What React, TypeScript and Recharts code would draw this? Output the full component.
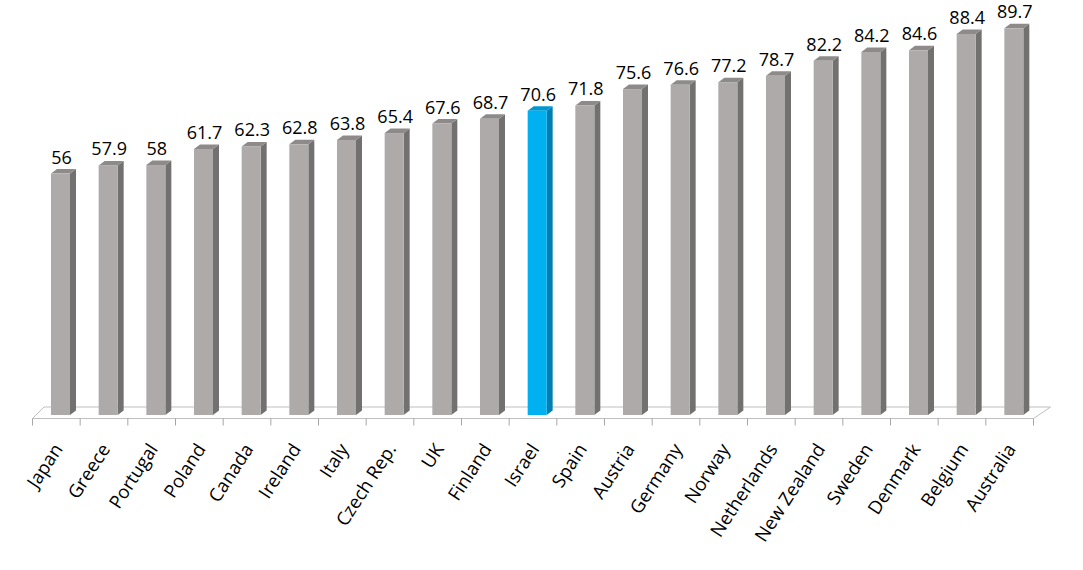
import React from "react"
import { Bar, BarChart, XAxis, YAxis } from "recharts"

const countries = [
  "Japan", "Greece", "Portugal", "Poland", "Canada", "Ireland", "Italy",
  "Czech Rep.", "UK", "Finland", "Israel", "Spain", "Austria", "Germany",
  "Norway", "Netherlands", "New Zealand", "Sweden", "Denmark", "Belgium", "Australia",
]
const values = [
  56, 57.9, 58, 61.7, 62.3, 62.8, 63.8, 65.4, 67.6, 68.7, 70.6, 71.8, 75.6,
  76.6, 77.2, 78.7, 82.2, 84.2, 84.6, 88.4, 89.7,
]
const highlighted = "Israel"

const chartData = countries.map((name, i) => ({ name, value: values[i] }))

const WIDTH = 1083
const HEIGHT = 570
const MARGIN = { top: 27, right: 45, bottom: 0, left: 37 }
const AXIS_HEIGHT = 155
const FONT = "'Open Sans', 'Liberation Sans', sans-serif"

// depth of the 3d bars
const DX = 6
const DY = -4.5

const gray = { front: "#aeaaaa", side: "#737070", top: "#8e8a8a" }
const blue = { front: "#00b0f0", side: "#0080b2", top: "#0098d2" }

function Bar3D(props: any) {
  const { x, y, width, height, payload } = props
  if (width == null || height == null) return null
  const c = payload && payload.name === highlighted ? blue : gray
  const r = x + width
  const b = y + height
  return (
    <g>
      <polygon
        points={`${r},${y} ${r + DX},${y + DY} ${r + DX},${b + DY} ${r},${b}`}
        fill={c.side}
      />
      <polygon
        points={`${x},${y} ${x + DX},${y + DY} ${r + DX},${y + DY} ${r},${y}`}
        fill={c.top}
      />
      <rect x={x} y={y} width={width} height={height} fill={c.front} />
    </g>
  )
}

function ValueLabel(props: any) {
  const { x, y, width, value } = props
  return (
    <text
      x={x + width / 2 + 1}
      y={y - 10}
      textAnchor="middle"
      fontSize={18}
      fontFamily={FONT}
      fill="#000"
    >
      {value}
    </text>
  )
}

function CountryTick(props: any) {
  const { x, y, payload } = props
  const ax = x + 2.5
  const ay = y + 34
  return (
    <text
      x={ax}
      y={ay}
      textAnchor="end"
      fontSize={18.5}
      fontFamily={FONT}
      fill="#000"
      transform={`rotate(-57, ${ax}, ${ay})`}
    >
      {payload.value}
    </text>
  )
}

function Floor() {
  const plotW = WIDTH - MARGIN.left - MARGIN.right
  const plotH = HEIGHT - MARGIN.top - MARGIN.bottom - AXIS_HEIGHT
  const bottom = MARGIN.top + plotH
  const fx0 = MARGIN.left - 4.5
  const fx1 = fx0 + plotW
  const fy = bottom + 3.5
  const by = bottom - 8
  const bw = plotW / countries.length
  const ticks = []
  for (let i = 0; i <= countries.length; i++) {
    const tx = fx0 + i * bw
    ticks.push(<line key={i} x1={tx} y1={fy} x2={tx} y2={fy + 7} stroke="#a6a6a6" />)
  }
  return (
    <g>
      <polygon
        points={`${fx0},${fy} ${fx0 + 11.5},${by} ${fx1 + 17},${by} ${fx1},${fy}`}
        fill="#fff"
        stroke="#bfbfbf"
        strokeWidth={1}
      />
      {ticks}
    </g>
  )
}

export default function App() {
  return (
    <div style={{ position: "absolute", left: 0, top: 0, background: "#fff" }}>
      <BarChart width={WIDTH} height={HEIGHT} data={chartData} margin={MARGIN}>
        <Floor />
        <XAxis
          dataKey="name"
          height={AXIS_HEIGHT}
          axisLine={false}
          tickLine={false}
          tickSize={0}
          tickMargin={0}
          interval={0}
          tick={<CountryTick />}
        />
        <YAxis hide domain={[0, 90]} />
        <Bar
          dataKey="value"
          barSize={19}
          shape={<Bar3D />}
          label={<ValueLabel />}
          isAnimationActive={false}
        />
      </BarChart>
    </div>
  )
}
